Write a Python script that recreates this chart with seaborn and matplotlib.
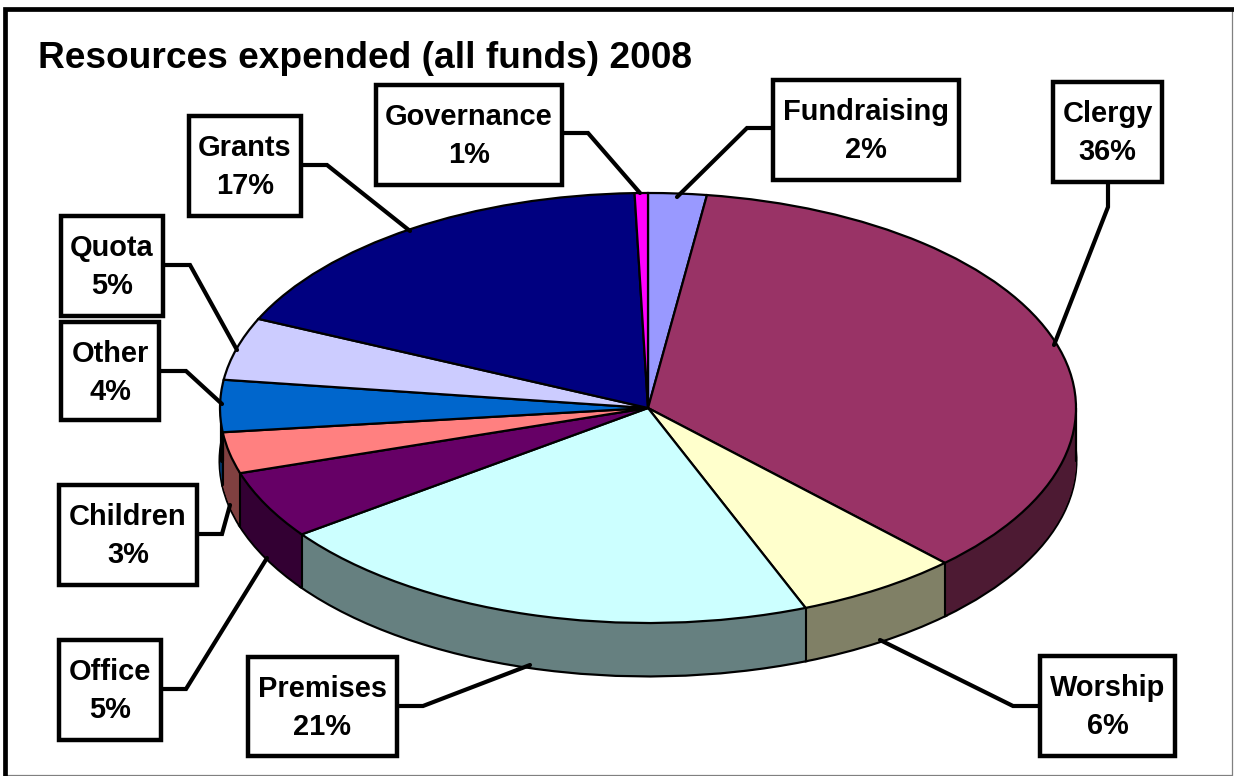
# 3D style pie of resources expended, built by stacking seaborn themed matplotlib pies
import numpy as np
import matplotlib
matplotlib.use('Agg')
import matplotlib.pyplot as plt
from matplotlib.patches import Rectangle
import seaborn as sns

# Data, clockwise from 12 o'clock
categories = ['Fundraising', 'Clergy', 'Worship', 'Premises', 'Office',
              'Children', 'Other', 'Quota', 'Grants', 'Governance']
values = [2.2, 35.6, 6.2, 21.0, 5.1, 3.1, 3.9, 4.7, 17.7, 0.5]
pct_labels = ['2%', '36%', '6%', '21%', '5%', '3%', '4%', '5%', '17%', '1%']
colors = ['#9999FF', '#993366', '#FFFFCC', '#CCFFFF', '#660066',
          '#FF8080', '#0066CC', '#CCCCFF', '#000080', '#FF00FF']
title = 'Resources expended (all funds) 2008'

# Label boxes (left, top, right, bottom) in pixels
boxes = {
    'Fundraising': (773, 80, 959, 180),
    'Clergy': (1053, 82, 1162, 182),
    'Worship': (1040, 656, 1175, 756),
    'Premises': (248, 657, 397, 756),
    'Office': (59, 640, 161, 740),
    'Children': (59, 485, 197, 585),
    'Other': (61, 322, 159, 420),
    'Quota': (61, 216, 163, 316),
    'Grants': (189, 116, 301, 216),
    'Governance': (376, 85, 562, 185),
}
# Leader lines in pixels
leaders = {
    'Fundraising': [(773, 128), (747, 128), (677, 197)],
    'Clergy': [(1108, 182), (1108, 207), (1054, 345)],
    'Worship': [(1040, 706), (1013, 706), (880, 640)],
    'Premises': [(397, 706), (423, 706), (530, 665)],
    'Office': [(161, 689), (186, 689), (267, 558)],
    'Children': [(197, 534), (222, 534), (230, 505)],
    'Other': [(159, 371), (186, 371), (222, 404)],
    'Quota': [(163, 265), (190, 265), (237, 350)],
    'Grants': [(301, 165), (327, 165), (410, 231)],
    'Governance': [(562, 133), (588, 133), (640, 193)],
}

W, H = 1234, 776
CX, CY, RX, RY, DEPTH_PX = 648, 408, 428, 215, 53

sns.set_theme(style='white')
plt.rcParams['font.family'] = ['Liberation Sans', 'DejaVu Sans']

fig = plt.figure(figsize=(W / 100, H / 100), dpi=100, facecolor='white')
ax = fig.add_axes([0, 0, 1, 1])

depth = DEPTH_PX / RY
dark = [tuple(c * 0.5 for c in matplotlib.colors.to_rgb(col)) for col in colors]

# Side wall: darker pies stacked from the bottom up
ax.pie(values, colors=dark, startangle=90, counterclock=False, center=(0, -depth),
       wedgeprops=dict(edgecolor='black', linewidth=2.2))
for off in np.linspace(depth, 0, 80)[1:]:
    ax.pie(values, colors=dark, startangle=90, counterclock=False, center=(0, -off),
           wedgeprops=dict(edgecolor='none', linewidth=0))

# Vertical edges of the side wall
angles = np.radians(np.cumsum(values) / np.sum(values) * 360)
for a in angles:
    if np.cos(a) < 0:
        ax.plot([np.sin(a)] * 2, [np.cos(a), np.cos(a) - depth], color='black', lw=1.5, zorder=3)
ax.plot([-0.995, -0.995], [0, -depth], color='black', lw=3.0, zorder=3)
ax.plot([1, 1], [0, -depth], color='black', lw=1.6, zorder=3)

# Top face
wedges, _ = ax.pie(values, colors=colors, startangle=90, counterclock=False,
                   wedgeprops=dict(edgecolor='black', linewidth=1.6))
for w in wedges:
    w.set_zorder(4)

ax.set_aspect('auto')
ax.set_xlim(-CX / RX, (W - CX) / RX)
ax.set_ylim(-(H - CY) / RY, CY / RY)
ax.axis('off')

# Overlay in pixel coordinates for frame, title and labels
ov = fig.add_axes([0, 0, 1, 1])
ov.set_xlim(0, W)
ov.set_ylim(H, 0)
ov.axis('off')
ov.patch.set_alpha(0)

ov.plot([1232, 1232], [8, 775], color='#808080', lw=0.9)
ov.plot([5, 1232], [775, 775], color='#808080', lw=0.9)
ov.plot([5, 5, 1234], [776, 8.5, 8.5], color='black', lw=3.4, solid_joinstyle='miter')

ov.text(38, 68, title, fontsize=26.7, fontweight='bold', color='black', va='baseline', ha='left')

for name, pct in zip(categories, pct_labels):
    pts = np.array(leaders[name])
    ov.plot(pts[:, 0], pts[:, 1], color='black', lw=3.0, solid_joinstyle='miter', zorder=2)
    x0, y0, x1, y1 = boxes[name]
    ov.add_patch(Rectangle((x0, y0), x1 - x0, y1 - y0, facecolor='white',
                           edgecolor='black', linewidth=3.2, zorder=3))
    xc = (x0 + x1) / 2
    ov.text(xc, y0 + 40, name, fontsize=20.9, fontweight='bold', color='black',
            ha='center', va='baseline', zorder=4)
    ov.text(xc, y0 + 78, pct, fontsize=20.9, fontweight='bold', color='black',
            ha='center', va='baseline', zorder=4)

fig.savefig('out.png', dpi=100, facecolor='white')
